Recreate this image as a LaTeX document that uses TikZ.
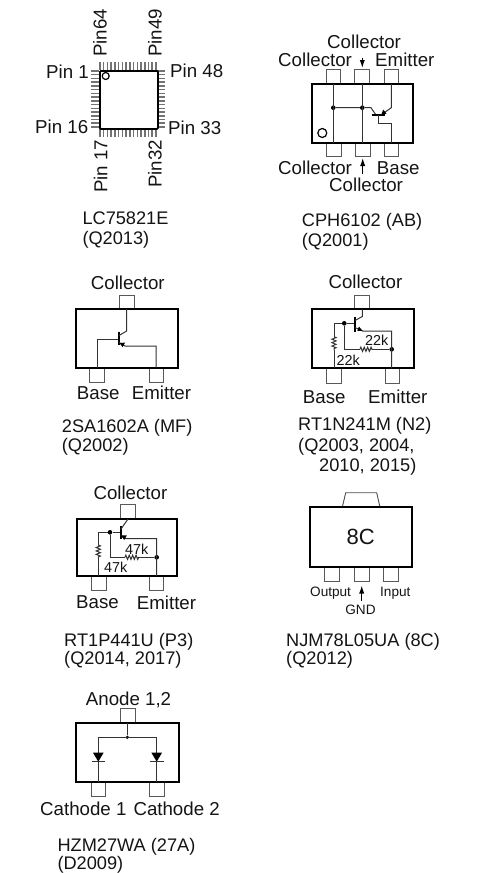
\documentclass[tikz,border=0pt]{standalone}
\usepackage{fontspec}
\setmainfont{Liberation Sans}
\usetikzlibrary{arrows.meta,decorations.pathmorphing}
\tikzset{
  x=1pt,y=-1pt,
  txt/.style={inner sep=0pt,anchor=west,text=black!92,font=\fontsize{18.7}{22}\selectfont,text height=13.4pt,text depth=0pt},
  captxt/.style={txt,font=\fontsize{18.2}{21}\selectfont,text height=13pt},
  smalltxt/.style={txt,font=\fontsize{13.6}{16}\selectfont,text height=9.8pt},
  rtxt/.style={txt,font=\fontsize{14.4}{16}\selectfont,text height=10.3pt},
  chipbody/.style={draw=black,line width=1.9pt,fill=white,line join=miter},
  pinline/.style={draw=black!65,line width=1pt},
  wire/.style={draw=black!80,line width=1pt},
  barline/.style={draw=black,line width=1.7pt},
  leadline/.style={draw=black!55,line width=1.5pt},
  dotn/.style={circle,fill=black,inner sep=0pt,minimum size=4.6pt},
  tipfill/.style={fill=black,draw=none},
  hint/.style={draw=black,line width=1.1pt,-{Latex[length=8pt,width=5.2pt]}},
  zig/.style={wire,decorate,decoration={zigzag,segment length=3.4pt,amplitude=2.1pt}}
}
\begin{document}
\begin{tikzpicture}
\useasboundingbox (0,0) rectangle (493,873);
% ---------- LC75821E
\foreach \i in {0,...,15}{
  \draw[leadline] ({100+\i*3.73},62) -- ({100+\i*3.73},70);
  \draw[leadline] ({100+\i*3.73},128) -- ({100+\i*3.73},136.5);
  \draw[leadline] (90.7,{71+\i*3.73}) -- (99,{71+\i*3.73});
  \draw[leadline] (157,{71+\i*3.73}) -- (165,{71+\i*3.73});
}
\node[chipbody,rounded corners=1pt,minimum width=58pt,minimum height=58pt,inner sep=0pt,anchor=north west] (qfp) at (99,70) {};
\node[circle,draw=black,line width=1.2pt,minimum size=7pt,inner sep=0pt] (qfpmark) at (105.7,76) {};
\node[txt] (p1) at (46,72) {Pin 1};
\node[txt] (p48) at (170,71) {Pin 48};
\node[txt] (p16) at (35,127) {Pin 16};
\node[txt] (p33) at (168,128) {Pin 33};
\node[txt,rotate=90] (p64) at (100,57) {Pin64};
\node[txt,rotate=90] (p49) at (155,57) {Pin49};
\node[txt,rotate=90] (p17) at (100.7,193) {Pin 17};
\node[txt,rotate=90] (p32) at (155,188) {Pin32};
\node[captxt] (c1a) at (82.3,218.3) {LC75821E};
\node[captxt] (c1b) at (82.3,237.7) {(Q2013)};
% ---------- CPH6102
\draw[pinline] (326,84) -- (326,69.3) -- (340.7,69.3) -- (340.7,84);
\draw[pinline] (354.7,84) -- (354.7,69.3) -- (369.3,69.3) -- (369.3,84);
\draw[pinline] (384,84) -- (384,69.3) -- (398.7,69.3) -- (398.7,84);
\draw[pinline] (326.7,142.7) -- (326.7,156.7) -- (341.3,156.7) -- (341.3,142.7);
\draw[pinline] (355.3,142.7) -- (355.3,156.7) -- (370,156.7) -- (370,142.7);
\draw[pinline] (384.3,142.7) -- (384.3,156.7) -- (398.7,156.7) -- (398.7,142.7);
\draw[chipbody] (311.7,84) rectangle (413,142.7);
\node[dotn] (cd1) at (333.3,107.7) {};
\node[dotn] (cd2) at (362.3,107.7) {};
\draw[wire] (333.3,84) -- (333.3,142.7);
\draw[wire] (362.3,84) -- (362.3,142.7);
\draw[wire] (cd1) -- (cd2) -- (371,107.7) -- (376,115);
\draw[barline] (371.5,115) -- (385,115);
\draw[wire] (378,115) -- (378,123.3) -- (391.3,123.3) -- (391.3,142.7);
\draw[wire] (381,115) -- (391.3,107.7) -- (391.3,84);
\fill[tipfill] (381,115.5) -- (383.2,109.6) -- (386.5,113.6) -- cycle;
\node[circle,draw=black,line width=1.2pt,minimum size=9pt,inner sep=0pt] (cmark) at (322.3,133) {};
\coordinate (ca1) at (362.3,57.5);
\coordinate (ca2) at (362.3,68);
\coordinate (ca3) at (362.7,173.5);
\coordinate (ca4) at (362.7,158);
\draw[hint] (ca1) -- (ca2);
\draw[hint] (ca3) -- (ca4);
\node[txt] (ct1) at (327,42) {Collector};
\node[txt] (ct2) at (278,60) {Collector};
\node[txt] (ct3) at (375,60) {Emitter};
\node[txt] (cb1) at (278,168) {Collector};
\node[txt] (cb2) at (376.7,168) {Base};
\node[txt] (cb3) at (329,185) {Collector};
\node[captxt] (c2a) at (301.7,220) {CPH6102 (AB)};
\node[captxt] (c2b) at (301.7,240) {(Q2001)};
% ---------- 2SA1602A
\draw[pinline] (119.3,309) -- (119.3,295) -- (134.3,295) -- (134.3,309);
\draw[pinline] (89.3,367.7) -- (89.3,382.3) -- (104.3,382.3) -- (104.3,367.7);
\draw[pinline] (149,367.7) -- (149,382.3) -- (163.7,382.3) -- (163.7,367.7);
\draw[chipbody] (75.7,309) rectangle (177.7,367.7);
\draw[wire] (119,339.3) -- (97,339.3) -- (97,367.7);
\draw[barline] (119,331.7) -- (119,345.3);
\draw[wire] (119,335.5) -- (126.7,331) -- (126.7,309);
\draw[wire] (119,342.5) -- (125,346) -- (156,346) -- (156,367.7);
\fill[tipfill] (119.5,343) -- (125,342.6) -- (122.6,347.2) -- cycle;
\node[txt] (t1) at (90.7,282.7) {Collector};
\node[txt] (t2) at (76.7,393) {Base};
\node[txt] (t3) at (131.7,393) {Emitter};
\node[captxt] (c3a) at (61.7,426) {2SA1602A (MF)};
\node[captxt] (c3b) at (61.7,445) {(Q2002)};
% ---------- RT1N241M
\draw[pinline] (354.3,309.3) -- (354.3,295) -- (369.3,295) -- (369.3,309.3);
\draw[pinline] (326,368.3) -- (326,383.3) -- (341,383.3) -- (341,368.3);
\draw[pinline] (385,368.3) -- (385,383.3) -- (399.3,383.3) -- (399.3,368.3);
\draw[chipbody] (312,309.3) rectangle (414,368.3);
\node[dotn] (nd1) at (344.3,323.3) {};
\node[dotn] (nd2) at (391.7,349.3) {};
\draw[wire] (355,323.3) -- (nd1) -- (334,323.3) -- (334,336.7);
\draw[zig] (334,336.7) -- (334,350);
\draw[wire] (334,350) -- (334,368.3);
\draw[wire] (nd1) -- (344.3,349.3) -- (360,349.3);
\draw[zig] (360,349.3) -- (373.3,349.3);
\draw[wire] (373.3,349.3) -- (nd2);
\draw[barline] (355,316.7) -- (355,331.7);
\draw[wire] (355,320.5) -- (362.3,316.5) -- (362.3,309.3);
\draw[wire] (355,327.5) -- (362.7,331) -- (391.7,331) -- (391.7,368.3);
\fill[tipfill] (362.7,331) -- (357.3,330.8) -- (359,326.6) -- cycle;
\node[rtxt] (r1) at (365,340.7) {22k};
\node[rtxt] (r2) at (336.5,360.7) {22k};
\node[txt] (t4) at (328.3,281.7) {Collector};
\node[txt] (t5) at (302.7,396.7) {Base};
\node[txt] (t6) at (368,396.7) {Emitter};
\node[captxt] (c4a) at (298,423.7) {RT1N241M (N2)};
\node[captxt] (c4b) at (298,444.7) {(Q2003, 2004,};
\node[captxt] (c4c) at (319,465) {2010, 2015)};
% ---------- RT1P441U
\draw[pinline] (120,519) -- (120,504) -- (135,504) -- (135,519);
\draw[pinline] (91.7,576) -- (91.7,590) -- (106.3,590) -- (106.3,576);
\draw[pinline] (149,576) -- (149,590) -- (163.7,590) -- (163.7,576);
\draw[chipbody] (77.3,519) rectangle (177.3,576);
\node[dotn] (pd1) at (110,532.3) {};
\node[dotn] (pd2) at (156.7,557.3) {};
\draw[wire] (120.7,532.3) -- (pd1) -- (98.3,532.3) -- (98.3,545);
\draw[zig] (98.3,545) -- (98.3,558.3);
\draw[wire] (98.3,558.3) -- (98.3,576);
\draw[wire] (pd1) -- (110,557.3) -- (125,557.3);
\draw[zig] (125,557.3) -- (139,557.3);
\draw[wire] (139,557.3) -- (pd2);
\draw[barline] (120.7,526) -- (120.7,539.3);
\draw[wire] (120.7,529.5) -- (128,519);
\draw[wire] (120.7,535) -- (126,538.7) -- (156.7,538.7) -- (156.7,576);
\fill[tipfill] (121,535.5) -- (126.8,535.4) -- (124.2,540) -- cycle;
\node[rtxt] (r3) at (125,549.3) {47k};
\node[rtxt] (r4) at (104,567.7) {47k};
\node[txt] (t7) at (93.3,492.7) {Collector};
\node[txt] (t8) at (76,601.7) {Base};
\node[txt] (t9) at (136.7,602.7) {Emitter};
\node[captxt] (c5a) at (64,640) {RT1P441U (P3)};
\node[captxt] (c5b) at (64,658) {(Q2014, 2017)};
% ---------- NJM78L05UA
\draw[draw=black!70,line width=.9pt] (342.3,507.3) -- (345.7,492.7) -- (376.7,492.7) -- (380,507.3);
\draw[pinline] (324.3,566.7) -- (324.3,581) -- (339.3,581) -- (339.3,566.7);
\draw[pinline] (354.3,566.7) -- (354.3,581) -- (369.3,581) -- (369.3,566.7);
\draw[pinline] (383.3,566.7) -- (383.3,581) -- (398.3,581) -- (398.3,566.7);
\draw[chipbody] (309.7,507.3) rectangle (412.3,566.7);
\node[inner sep=0pt,font=\fontsize{22}{26}\selectfont,text=black!92] (t8c) at (360.7,537.3) {8C};
\coordinate (na1) at (361.7,600.5);
\coordinate (na2) at (361.7,585.5);
\draw[hint] (na1) -- (na2);
\node[smalltxt] (t10) at (310,591.7) {Output};
\node[smalltxt] (t11) at (380,591.7) {Input};
\node[smalltxt] (t12) at (345.2,609.3) {GND};
\node[captxt] (c6a) at (286,640) {NJM78L05UA (8C)};
\node[captxt] (c6b) at (286,658.3) {(Q2012)};
% ---------- HZM27WA
\draw[pinline] (120.7,722.7) -- (120.7,708.3) -- (135.3,708.3) -- (135.3,722.7);
\draw[pinline] (91,781.7) -- (91,796.7) -- (105.7,796.7) -- (105.7,781.7);
\draw[pinline] (149.7,781.7) -- (149.7,796.7) -- (164.3,796.7) -- (164.3,781.7);
\draw[chipbody] (76,722.7) rectangle (179,781.7);
\node[dotn,minimum size=3.6pt] (hd) at (127.3,737.3) {};
\draw[wire] (127.3,722.7) -- (hd);
\draw[wire] (98.3,781.7) -- (98.3,737.3) -- (156.7,737.3) -- (156.7,781.7);
\fill[tipfill] (93,752.7) -- (103.6,752.7) -- (98.3,761.7) -- cycle;
\fill[tipfill] (151.4,752.7) -- (162,752.7) -- (156.7,761.7) -- cycle;
\draw[wire] (91.5,761.7) -- (105.2,761.7);
\draw[wire] (149.9,761.7) -- (163.5,761.7);
\node[txt] (t13) at (85.7,698.3) {Anode 1,2};
\node[txt] (t14) at (40,809) {Cathode 1};
\node[txt] (t15) at (133.3,809) {Cathode 2};
\node[captxt] (c7a) at (57.3,845) {HZM27WA (27A)};
\node[captxt] (c7b) at (57.3,863) {(D2009)};
\end{tikzpicture}
\end{document}
